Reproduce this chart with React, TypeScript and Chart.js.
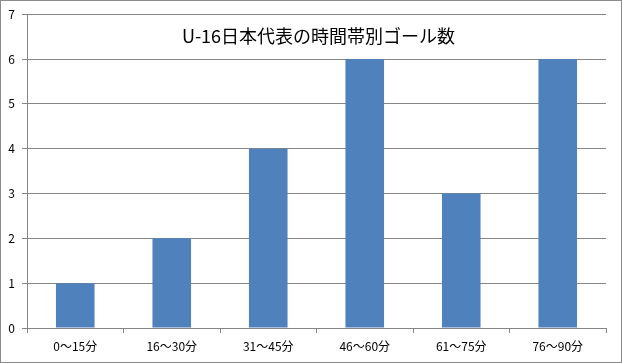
import React, { useEffect, useRef } from "react";
import { Chart, registerables } from "chart.js";

Chart.register(...registerables);

const categories = ["0〜15分", "16〜30分", "31〜45分", "46〜60分", "61〜75分", "76〜90分"];
const goals = [1, 2, 4, 6, 3, 6];
const titleText = "U-16日本代表の時間帯別ゴール数";
const yMin = 0;
const yMax = 7;

const FONT = "'Noto Sans CJK JP', 'Noto Sans', sans-serif";

const overlayPlugin = {
  id: "overlay",
  beforeDraw(chart: any) {
    const { ctx, width, height } = chart;
    ctx.save();
    ctx.fillStyle = "#ffffff";
    ctx.fillRect(0, 0, width, height);
    ctx.restore();
  },
  afterDraw(chart: any) {
    const { ctx, width, height, chartArea } = chart;
    ctx.save();
    ctx.strokeStyle = "#8a8a8a";
    ctx.lineWidth = 1;
    ctx.strokeRect(0.5, 0.5, width - 1, height - 1);
    ctx.fillStyle = "#000000";
    ctx.font = `18px ${FONT}`;
    ctx.textAlign = "center";
    ctx.textBaseline = "middle";
    ctx.fillText(titleText, (chartArea.left + chartArea.right) / 2 + 2, 36);
    ctx.restore();
  },
};

export default function App() {
  const ref = useRef<HTMLCanvasElement>(null);
  useEffect(() => {
    document.body.style.margin = "0";
    const chart = new Chart(ref.current!, {
      type: "bar",
      data: {
        labels: categories,
        datasets: [
          {
            data: goals,
            backgroundColor: "#4F81BD",
            borderWidth: 0,
            categoryPercentage: 1,
            barPercentage: 0.4,
          },
        ],
      },
      options: {
        animation: false,
        responsive: false,
        maintainAspectRatio: false,
        layout: { padding: { top: 13, right: 16, left: 0, bottom: 0 } },
        plugins: {
          legend: { display: false },
          title: { display: false },
          tooltip: { enabled: false },
        },
        scales: {
          x: {
            grid: {
              display: true,
              drawOnChartArea: false,
              drawTicks: true,
              tickLength: 5,
              color: "#868686",
              offset: true,
            },
            border: { display: true, color: "#868686" },
            ticks: { color: "#000", font: { family: FONT, size: 12 }, padding: 6, maxRotation: 0 },
            afterFit(scale: any) {
              scale.height = 35;
            },
          },
          y: {
            min: yMin,
            max: yMax,
            grid: { color: "#868686", tickLength: 5, drawTicks: true },
            border: { display: true, color: "#868686" },
            ticks: { stepSize: 1, color: "#000", font: { family: FONT, size: 12 }, padding: 7 },
            afterFit(scale: any) {
              scale.width = 27;
            },
          },
        },
      },
      plugins: [overlayPlugin],
    });
    return () => chart.destroy();
  }, []);
  return (
    <div style={{ position: "absolute", left: 0, top: 0, width: 622, height: 363 }}>
      <canvas ref={ref} width={622} height={363} style={{ display: "block" }} />
    </div>
  );
}
